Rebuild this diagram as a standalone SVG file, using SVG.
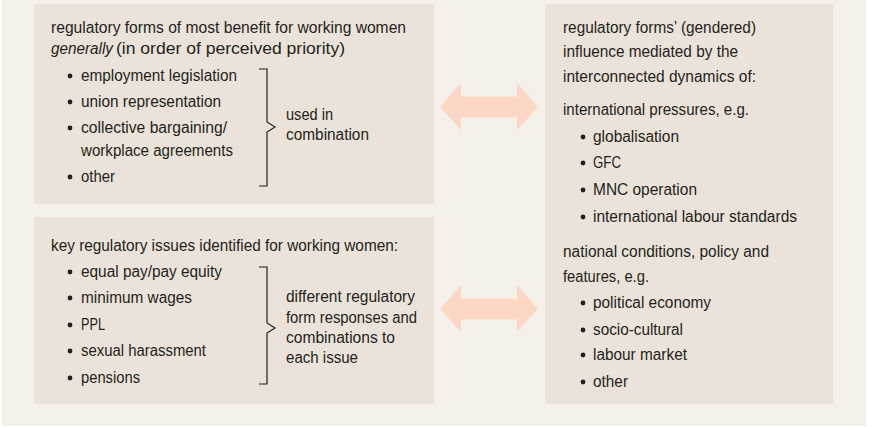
<svg xmlns="http://www.w3.org/2000/svg" width="872" height="427" viewBox="0 0 872 427">
<style>
.bg{fill:#f5f0ea}
.box{fill:#ebe3d9}
.t{font-family:"Liberation Sans",Arial,sans-serif;font-size:16px;fill:#231f20}
.i{font-style:italic}
.br{fill:none;stroke:#231f20;stroke-width:1.2}
.bul{fill:#231f20}
.arr{fill:#fdd7c6}
</style>
<defs>
<path id="dArrow" d="M0,0 L21,-24 L21,-10.5 L77,-10.5 L77,-24 L98,0 L77,23 L77,10.5 L21,10.5 L21,23 Z"/>
</defs>
<rect class="bg" x="2" y="0" width="864" height="426"/>

<g id="node-forms">
<rect class="box" x="34" y="4" width="400" height="200"/>
<text class="t" x="51" y="33" textLength="355" lengthAdjust="spacingAndGlyphs">regulatory forms of most benefit for working women</text>
<text class="t i" x="51" y="54" textLength="62" lengthAdjust="spacingAndGlyphs">generally</text>
<text class="t" x="116" y="54" textLength="229" lengthAdjust="spacingAndGlyphs">(in order of perceived priority)</text>
<circle class="bul" cx="70" cy="76" r="2.4"/>
<text class="t" x="81" y="81" textLength="156" lengthAdjust="spacingAndGlyphs">employment legislation</text>
<circle class="bul" cx="70" cy="102" r="2.4"/>
<text class="t" x="81" y="107" textLength="140" lengthAdjust="spacingAndGlyphs">union representation</text>
<circle class="bul" cx="70" cy="128" r="2.4"/>
<text class="t" x="81" y="133" textLength="146" lengthAdjust="spacingAndGlyphs">collective bargaining/</text>
<text class="t" x="81" y="156" textLength="152" lengthAdjust="spacingAndGlyphs">workplace agreements</text>
<circle class="bul" cx="70" cy="177" r="2.4"/>
<text class="t" x="81" y="182" textLength="34" lengthAdjust="spacingAndGlyphs">other</text>
<path class="br" d="M259,69 H267 V122 L275,127 L267,132 V186 H259"/>
<text class="t" x="286" y="120" textLength="47" lengthAdjust="spacingAndGlyphs">used in</text>
<text class="t" x="286" y="140" textLength="83" lengthAdjust="spacingAndGlyphs">combination</text>
</g>

<g id="node-issues">
<rect class="box" x="34" y="217" width="400" height="187"/>
<text class="t" x="51" y="251" textLength="347" lengthAdjust="spacingAndGlyphs">key regulatory issues identified for working women:</text>
<circle class="bul" cx="70" cy="272" r="2.4"/>
<text class="t" x="81" y="277" textLength="141" lengthAdjust="spacingAndGlyphs">equal pay/pay equity</text>
<circle class="bul" cx="70" cy="298" r="2.4"/>
<text class="t" x="81" y="303" textLength="111" lengthAdjust="spacingAndGlyphs">minimum wages</text>
<circle class="bul" cx="70" cy="325" r="2.4"/>
<text class="t" x="81" y="330" textLength="24" lengthAdjust="spacingAndGlyphs">PPL</text>
<circle class="bul" cx="70" cy="351" r="2.4"/>
<text class="t" x="81" y="356" textLength="125" lengthAdjust="spacingAndGlyphs">sexual harassment</text>
<circle class="bul" cx="70" cy="378" r="2.4"/>
<text class="t" x="81" y="383" textLength="59" lengthAdjust="spacingAndGlyphs">pensions</text>
<path class="br" d="M259,267 H267 V323 L275,328 L267,333 V384 H259"/>
<text class="t" x="286" y="302" textLength="129" lengthAdjust="spacingAndGlyphs">different regulatory</text>
<text class="t" x="286" y="323" textLength="131" lengthAdjust="spacingAndGlyphs">form responses and</text>
<text class="t" x="286" y="343" textLength="109" lengthAdjust="spacingAndGlyphs">combinations to</text>
<text class="t" x="286" y="363" textLength="72" lengthAdjust="spacingAndGlyphs">each issue</text>
</g>

<g id="node-influence">
<rect class="box" x="545" y="4" width="288" height="400"/>
<text class="t" x="563" y="33" textLength="193" lengthAdjust="spacingAndGlyphs">regulatory forms’ (gendered)</text>
<text class="t" x="563" y="57" textLength="175" lengthAdjust="spacingAndGlyphs">influence mediated by the</text>
<text class="t" x="563" y="82" textLength="193" lengthAdjust="spacingAndGlyphs">interconnected dynamics of:</text>
<text class="t" x="563" y="115" textLength="186" lengthAdjust="spacingAndGlyphs">international pressures, e.g.</text>
<circle class="bul" cx="583" cy="137" r="2.4"/>
<text class="t" x="593" y="142" textLength="86" lengthAdjust="spacingAndGlyphs">globalisation</text>
<circle class="bul" cx="583" cy="163" r="2.4"/>
<text class="t" x="593" y="168" textLength="28" lengthAdjust="spacingAndGlyphs">GFC</text>
<circle class="bul" cx="583" cy="190" r="2.4"/>
<text class="t" x="593" y="195" textLength="104" lengthAdjust="spacingAndGlyphs">MNC operation</text>
<circle class="bul" cx="583" cy="217" r="2.4"/>
<text class="t" x="593" y="222" textLength="204" lengthAdjust="spacingAndGlyphs">international labour standards</text>
<text class="t" x="563" y="257" textLength="206" lengthAdjust="spacingAndGlyphs">national conditions, policy and</text>
<text class="t" x="563" y="282" textLength="86" lengthAdjust="spacingAndGlyphs">features, e.g.</text>
<circle class="bul" cx="583" cy="303" r="2.4"/>
<text class="t" x="593" y="308" textLength="118" lengthAdjust="spacingAndGlyphs">political economy</text>
<circle class="bul" cx="583" cy="330" r="2.4"/>
<text class="t" x="593" y="335" textLength="90" lengthAdjust="spacingAndGlyphs">socio-cultural</text>
<circle class="bul" cx="583" cy="355" r="2.4"/>
<text class="t" x="593" y="360" textLength="94" lengthAdjust="spacingAndGlyphs">labour market</text>
<circle class="bul" cx="583" cy="382" r="2.4"/>
<text class="t" x="593" y="387" textLength="35" lengthAdjust="spacingAndGlyphs">other</text>
</g>

<g id="connectors">
<use href="#dArrow" class="arr" x="440" y="107"/>
<use href="#dArrow" class="arr" x="440" y="309"/>
</g>
</svg>
